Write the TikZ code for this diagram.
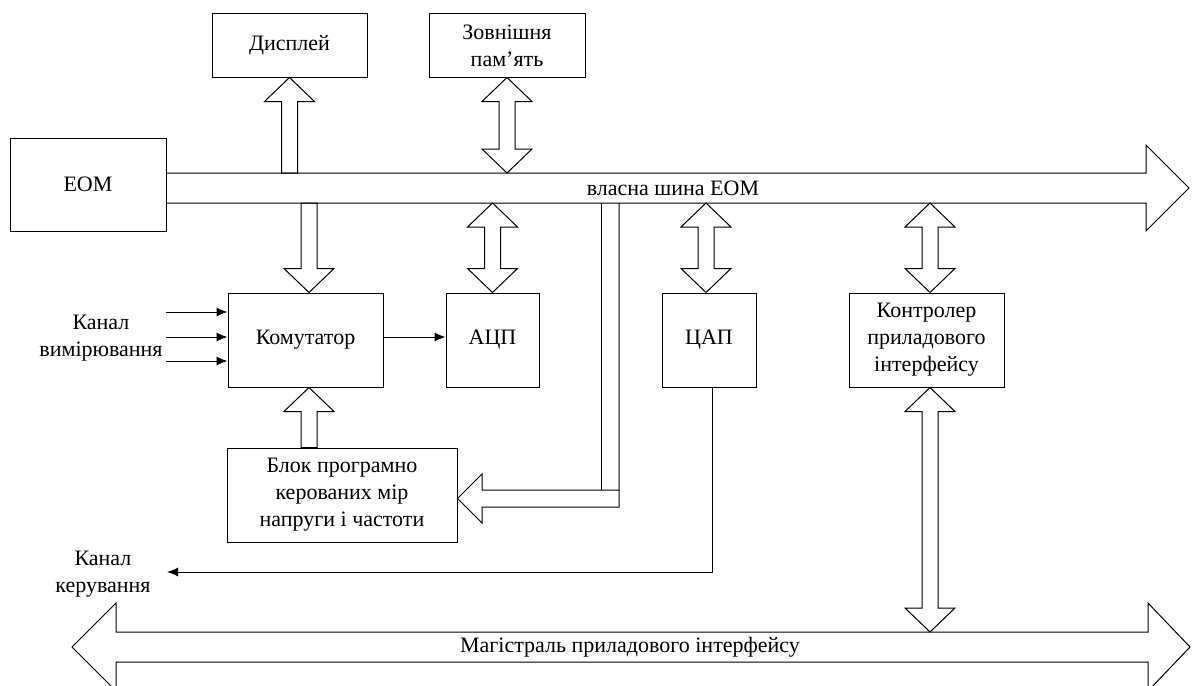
\documentclass[tikz,border=0pt]{standalone}
\usepackage{fontspec}
\setmainfont{Liberation Serif}
\usetikzlibrary{calc,arrows.meta}
% fat (block) arrows; #1 and #2 are the end points (top and bottom)
\newcommand\fatup[2]{%
  \draw[fat] let \p1=(#1), \p2=(#2) in
    (\x1,\y1) -- (\x1+25pt,\y1-24pt) -- (\x1+8pt,\y1-24pt) -- (\x1+8pt,\y2)
    -- (\x1-8pt,\y2) -- (\x1-8pt,\y1-24pt) -- (\x1-25pt,\y1-24pt) -- cycle;}
\newcommand\fatdown[2]{%
  \draw[fat] let \p1=(#1), \p2=(#2) in
    (\x2,\y2) -- (\x2+25pt,\y2+24pt) -- (\x2+8pt,\y2+24pt) -- (\x2+8pt,\y1)
    -- (\x2-8pt,\y1) -- (\x2-8pt,\y2+24pt) -- (\x2-25pt,\y2+24pt) -- cycle;}
\newcommand\fatboth[2]{%
  \draw[fat] let \p1=(#1), \p2=(#2) in
    (\x1,\y1) -- (\x1+25pt,\y1-24pt) -- (\x1+8pt,\y1-24pt) -- (\x1+8pt,\y2+24pt)
    -- (\x1+25pt,\y2+24pt) -- (\x1,\y2) -- (\x1-25pt,\y2+24pt) -- (\x1-8pt,\y2+24pt)
    -- (\x1-8pt,\y1-24pt) -- (\x1-25pt,\y1-24pt) -- cycle;}
\begin{document}
\begin{tikzpicture}[x=1pt,y=-1pt,line width=1pt,
  font=\fontsize{22}{27}\selectfont,
  box/.style={draw,align=center,inner sep=0pt},
  fat/.style={draw,line join=miter},
  sig/.style={-{Latex[length=11pt,width=9pt]}},
  lbl/.style={align=center,inner sep=0pt}]
\useasboundingbox (0,0) rectangle (1193,685);
\clip (0,0) rectangle (1193,685);

% coordinates of the bus edges
\coordinate (bt) at (0,173);
\coordinate (bb) at (0,203);
\coordinate (mt) at (0,632);

% blocks
\node[box,minimum width=156pt,minimum height=93pt] (eom) at (88,184.5) {ЕОМ};
\node[box,minimum width=155pt,minimum height=63pt] (disp) at (289.5,45.5) {Дисплей};
\node[box,minimum width=156pt,minimum height=63pt] (mem) at (507,45.5) {Зовнішня\\пам’ять};
\node[box,minimum width=155pt,minimum height=94pt] (kom) at (305.5,340) {Комутатор};
\node[box,minimum width=93pt,minimum height=94pt] (adc) at (492.5,340) {АЦП};
\node[box,minimum width=94pt,minimum height=94pt] (dac) at (709,340) {ЦАП};
\node[box,minimum width=155pt,minimum height=94pt] (ctrl) at (926.5,340) {Контролер\\приладового\\інтерфейсу};
\node[box,minimum width=230pt,minimum height=94pt] (blok) at (342,495) {Блок програмно\\керованих мір\\напруги і частоти};

% own bus of the computer
\draw[fat] (eom.east |- bt) -- (1146,173) -- (1146,145) -- (1189,188) -- (1146,231) -- (1146,203) -- (eom.east |- bb);
\node[lbl] (buslbl) at (673,188) {власна шина ЕОМ};

% instrument interface bus
\draw[fat] (116,632) -- (1148,632) -- (1148,603) -- (1190,647) -- (1148,691) -- (1148,662)
  -- (116,662) -- (116,691) -- (72,647) -- (116,603) -- cycle;
\node[lbl] (maglbl) at (630,647) {Магістраль приладового інтерфейсу};

% block arrows
\fatup{disp.south}{disp.south |- bt}
\fatboth{mem.south}{mem.south |- bt}
\fatdown{[xshift=3.5pt]kom.north |- bb}{[xshift=3.5pt]kom.north}
\fatboth{adc.north |- bb}{adc.north}
\fatboth{[xshift=-3pt]dac.north |- bb}{[xshift=-3pt]dac.north}
\fatboth{[xshift=3.5pt]ctrl.north |- bb}{[xshift=3.5pt]ctrl.north}
\fatboth{[xshift=3.5pt]ctrl.south}{[xshift=3.5pt]ctrl.south |- mt}
\fatup{[xshift=3.5pt]kom.south}{[xshift=3.5pt]blok.north}

% L-shaped block arrow from the bus to the block of measures
\coordinate (lmid) at (0,498.5);
\draw[fat] (619,203) -- (619,507) -- (482,507) -- (482,523) -- (blok.east |- lmid)
  -- (482,474) -- (482,490) -- (619,490);
\draw (601,203) -- (601,490);

% measurement channel inputs
\node[lbl] (meas) at (101,338) {Канал\\вимірювання};
\coordinate (in1) at (166,312);
\coordinate (in2) at (166,337);
\coordinate (in3) at (166,361);
\draw[sig] (in1) -- (in1 -| kom.west);
\draw[sig] (in2) -- (in2 -| kom.west);
\draw[sig] (in3) -- (in3 -| kom.west);
\draw[sig] (kom.east |- in2) -- (adc.west |- in2);

% control channel
\node[lbl] (ctl) at (103,574) {Канал\\керування};
\coordinate (ctlend) at (167,572);
\draw[sig] ([xshift=3pt]dac.south) |- (ctlend);
\end{tikzpicture}
\end{document}
